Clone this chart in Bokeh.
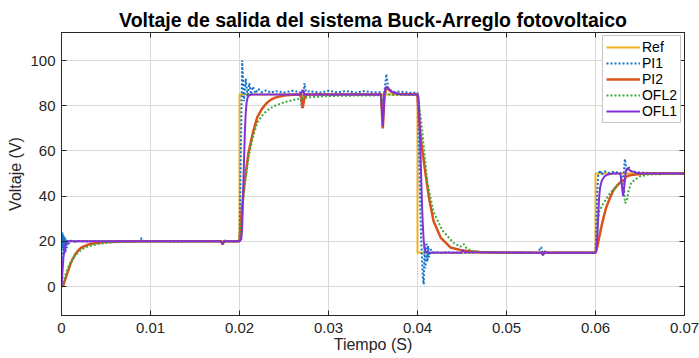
from bokeh.plotting import figure
from bokeh.models import FixedTicker, Range1d, LinearAxis
from bokeh.embed import file_html
from bokeh.resources import INLINE

# ---------------- data ----------------
x_ticks = [0.0, 0.01, 0.02, 0.03, 0.04, 0.05, 0.06, 0.07]
x_tick_labels = ["0", "0.01", "0.02", "0.03", "0.04", "0.05", "0.06", "0.07"]
y_ticks = [0, 20, 40, 60, 80, 100]
y_tick_labels = ["0", "20", "40", "60", "80", "100"]

series_names = ["Ref", "PI1", "PI2", "OFL2", "OFL1"]

ref_t = [0.0, 0.02, 0.02, 0.04, 0.04, 0.06, 0.06, 0.07]
ref_v = [20, 20, 85, 85, 15, 15, 50, 50]

pi1_t = [0, 0.00005, 0.0001, 0.00015, 0.0002, 0.00028, 0.00036, 0.00044, 0.00052, 0.0006,
         0.0007, 0.0008, 0.001, 0.0015, 0.002, 0.003, 0.004, 0.005, 0.006, 0.007,
         0.0088, 0.009, 0.0092, 0.0095, 0.011, 0.013, 0.015, 0.0175, 0.0179, 0.0181,
         0.0183, 0.019, 0.02,
         0.0201, 0.0203, 0.0205, 0.0207, 0.0209, 0.0211, 0.0213, 0.0215, 0.0218, 0.0221,
         0.0225, 0.023, 0.0235, 0.024, 0.025, 0.026, 0.0268, 0.027, 0.0272, 0.0273,
         0.0275, 0.0278, 0.029, 0.030, 0.031, 0.032, 0.033, 0.034, 0.035, 0.0359,
         0.0361, 0.0363, 0.0365, 0.0367, 0.037, 0.0375, 0.038, 0.039, 0.04,
         0.0402, 0.0404, 0.0406, 0.0407, 0.0408, 0.0409, 0.041, 0.0411, 0.0412, 0.0413,
         0.0415, 0.0418, 0.042, 0.0425, 0.043, 0.045, 0.047, 0.049, 0.051, 0.0535,
         0.0539, 0.0541, 0.0543, 0.0546, 0.057, 0.06,
         0.0601, 0.0602, 0.0603, 0.0605, 0.0607, 0.061, 0.0615, 0.062, 0.0628, 0.0631,
         0.0633, 0.0635, 0.0637, 0.064, 0.065, 0.066, 0.07]
pi1_v = [0, 12, 24, 17, 23, 14, 22, 15, 21, 17,
         20.5, 18.8, 20.3, 19.8, 20.2, 19.9, 20.1, 19.9, 20.1, 20,
         20, 21.5, 19.7, 20, 20.1, 19.9, 20.1, 20, 20.4, 18.6,
         20.3, 20, 20,
         45, 100, 82, 92, 84, 90, 85, 88.5, 85.5, 87.5,
         86, 86.8, 85.8, 86.5, 85.9, 86.6, 86, 79, 84, 90,
         85, 86.5, 85.8, 86.6, 85.9, 86.5, 85.8, 86.4, 85.9, 86,
         73, 87, 94, 88, 86.8, 86, 86.3, 85.8, 85.8,
         55, 22, 4, 1, 18, 8, 19.5, 11, 18, 13,
         16.5, 14.3, 15.6, 14.8, 15.2, 15, 15.2, 14.9, 15.1, 15,
         17.5, 13.8, 15.6, 15, 15.1, 15,
         28, 42, 49, 51.5, 49.5, 51, 50.3, 50.7, 50.3, 46,
         56.5, 51, 53, 51, 50.5, 50.2, 50]

pi2_t = [0, 0.0002, 0.0004, 0.00064, 0.001, 0.0013, 0.0016, 0.002, 0.0023, 0.003,
         0.0038, 0.005, 0.007, 0.009, 0.0179, 0.0181, 0.0183, 0.0186, 0.02,
         0.0202, 0.0205, 0.021, 0.0215, 0.022, 0.0225, 0.023, 0.0235, 0.024, 0.025,
         0.026, 0.0269, 0.0271, 0.0273, 0.0276, 0.0359, 0.0361, 0.0363, 0.0365, 0.0368,
         0.0372, 0.038, 0.04,
         0.0402, 0.0405, 0.0409, 0.0413, 0.0418, 0.0426, 0.0437, 0.045, 0.047, 0.05,
         0.0539, 0.0541, 0.0543, 0.0546, 0.06,
         0.0602, 0.0604, 0.0606, 0.0609, 0.0612, 0.0616, 0.062, 0.0625, 0.063, 0.0632,
         0.0634, 0.0637, 0.064, 0.065, 0.066, 0.07]
pi2_v = [0, 0.5, 3, 5.7, 10, 12.5, 14.6, 16.5, 17.4, 18.6,
         19.2, 19.7, 19.9, 20, 20, 18.8, 20.2, 20, 20,
         31, 44, 59, 68, 75, 78.5, 81, 82.6, 83.6, 84.5,
         84.9, 85, 79, 83.5, 85, 85, 70, 85, 88, 87,
         85.8, 85.2, 85,
         73, 61.6, 50, 39, 29, 21.7, 17.3, 16, 15.3, 15,
         15, 14.2, 15.3, 15, 15,
         17.5, 21.5, 25.5, 30.5, 35, 39, 42.5, 45, 47, 46.5,
         48.5, 49, 49.3, 49.8, 50, 50]

ofl2_t = [0, 0.0002, 0.0005, 0.0008, 0.0012, 0.0016, 0.002, 0.0025, 0.003, 0.004,
          0.005, 0.006, 0.008, 0.01, 0.0179, 0.0181, 0.0183, 0.02,
          0.0202, 0.0205, 0.021, 0.0215, 0.022, 0.0225, 0.023, 0.0235, 0.024, 0.025,
          0.026, 0.027, 0.028, 0.03, 0.033, 0.0359, 0.0361, 0.0363, 0.0366, 0.037, 0.04,
          0.0402, 0.0405, 0.0408, 0.0411, 0.0418, 0.0428, 0.044, 0.0448, 0.0452, 0.0455,
          0.046, 0.047, 0.05, 0.06,
          0.0601, 0.0602, 0.0603, 0.0604, 0.0607, 0.061, 0.0615, 0.062, 0.0625, 0.063,
          0.0632, 0.0633, 0.0635, 0.0637, 0.064, 0.065, 0.066, 0.07]
ofl2_v = [0, 2, 6, 9, 12, 14, 15.6, 16.9, 17.8, 18.8,
          19.3, 19.6, 19.9, 20, 20, 19.2, 20, 20,
          29, 42, 57, 66, 72.5, 75.5, 77.5, 79, 80, 81.5,
          82.5, 83.3, 83.8, 84.3, 84.5, 84.6, 81, 86, 85.2, 84.8, 84.7,
          80, 70, 58, 46, 33, 24.8, 19.5, 17.6, 18.8, 17,
          15.8, 15.3, 15, 15,
          18, 24, 29, 33, 35.5, 37.5, 40.5, 43, 45, 46.3,
          44, 37, 37.5, 42, 46, 48.8, 49.6, 50]

ofl1_t = [0, 0.0001, 0.0002, 0.0003, 0.0004, 0.0005, 0.0007, 0.001, 0.0179, 0.0181,
          0.0183, 0.02,
          0.0202, 0.0203, 0.0204, 0.0205, 0.0206, 0.0207, 0.0208, 0.0209, 0.021, 0.0212,
          0.0215, 0.0269, 0.0271, 0.0273, 0.0359, 0.0361, 0.0362, 0.0363, 0.0365, 0.0367,
          0.037, 0.0375, 0.038, 0.04,
          0.0401, 0.0402, 0.0403, 0.0404, 0.0405, 0.0406, 0.0407, 0.0408, 0.0409, 0.0411,
          0.0449, 0.0451, 0.0453, 0.0539, 0.0541, 0.0543, 0.0546, 0.06,
          0.0601, 0.0602, 0.0603, 0.0604, 0.0605, 0.0607, 0.061, 0.0614, 0.062, 0.0628,
          0.0631, 0.0632, 0.0634, 0.0636, 0.0639, 0.0645, 0.065, 0.07]
ofl1_v = [0, 6, 12, 16, 18.3, 19.3, 19.9, 20, 20, 19,
          20, 20,
          21, 26, 40, 55, 68, 77, 81.5, 83.5, 84.3, 84.8,
          85, 85, 87, 85, 85, 71, 78, 86, 88.5, 87.8,
          86.5, 85.6, 85.1, 85,
          84, 77, 64, 50, 37, 27, 20, 16.8, 15.6, 15.1,
          15, 16.2, 15.2, 15, 14, 15.3, 15, 15,
          16, 22, 31, 39, 43.5, 46.8, 48.7, 49.6, 50, 50,
          40, 43, 51, 52.5, 51.3, 50.4, 50.1, 50]

# ---------------- figure ----------------
FONT = "Liberation Sans"
AX = "#262626"
W, H = 699, 358
ML, MR, MT, MB = 61, 15, 32, 43

p = figure(width=W, height=H, output_backend="svg", toolbar_location=None,
           x_range=Range1d(0, 0.07), y_range=Range1d(-12.8, 112.4),
           min_border_left=ML, min_border_right=MR, min_border_top=MT,
           min_border_bottom=MB, background_fill_color="white",
           border_fill_color="white")

p.title.text = "Voltaje de salida del sistema Buck-Arreglo fotovoltaico"
p.title.align = "center"
p.title.text_font = FONT
p.title.text_font_size = "19.5px"
p.title.text_font_style = "bold"
p.title.text_color = "#000000"
p.title.standoff = 4
p.title.offset = 0

p.outline_line_color = AX
p.outline_line_width = 1

xt = FixedTicker(ticks=x_ticks)
yt = FixedTicker(ticks=y_ticks)


def style_axis(ax):
    ax.axis_line_color = AX
    ax.axis_line_width = 1
    ax.major_tick_line_color = AX
    ax.major_tick_in = 5
    ax.major_tick_out = 0
    ax.minor_tick_line_color = None
    ax.major_label_text_font = FONT
    ax.major_label_text_color = AX
    ax.major_label_text_font_size = "15px"


xa = p.xaxis[0]
style_axis(xa)
xa.ticker = xt
xa.major_label_overrides = {t: l for t, l in zip(x_ticks, x_tick_labels)}
xa.major_label_standoff = 7
xa.axis_label = "Tiempo (S)"
xa.axis_label_text_font = FONT
xa.axis_label_text_font_size = "16px"
xa.axis_label_text_font_style = "normal"
xa.axis_label_text_color = AX
xa.axis_label_standoff = 0

ya = p.yaxis[0]
style_axis(ya)
ya.ticker = yt
ya.major_label_overrides = {t: l for t, l in zip(y_ticks, y_tick_labels)}
ya.major_label_standoff = 6
ya.axis_label = "Voltaje (V)"
ya.axis_label_text_font = FONT
ya.axis_label_text_font_size = "16px"
ya.axis_label_text_font_style = "normal"
ya.axis_label_text_color = AX
ya.axis_label_standoff = 3

# box ticks on top and right (MATLAB style), without labels
for side, tk in (("above", xt), ("right", yt)):
    ax = LinearAxis(ticker=tk)
    style_axis(ax)
    ax.major_label_text_font_size = "1px"
    ax.major_label_text_color = None
    ax.major_label_standoff = 0
    p.add_layout(ax, side)

p.xgrid.ticker = xt
p.ygrid.ticker = yt
p.grid.grid_line_color = "#d9d9d9"
p.grid.grid_line_width = 1

# ---------------- lines ----------------
p.line(ref_t, ref_v, color="#EDB120", line_width=2, legend_label=series_names[0])
p.line(pi1_t, pi1_v, color="#1473C8", line_width=2, line_dash="2 2",
       legend_label=series_names[1])
p.line(pi2_t, pi2_v, color="#D95319", line_width=2.5, legend_label=series_names[2])
p.line(ofl2_t, ofl2_v, color="#3CAA3C", line_width=2, line_dash="2 2",
       legend_label=series_names[3])
p.line(ofl1_t, ofl1_v, color="#8430D8", line_width=2, legend_label=series_names[4])

lg = p.legend[0]
lg.location = "top_right"
lg.margin = 3
lg.padding = 3
lg.spacing = 0
lg.label_height = 16
lg.glyph_height = 16
lg.glyph_width = 34
lg.label_standoff = 2
lg.label_text_font = FONT
lg.label_text_font_size = "14px"
lg.label_text_color = "#000000"
lg.border_line_color = "#8c8c8c"
lg.border_line_width = 1
lg.background_fill_color = "white"
lg.background_fill_alpha = 1

open("out.html", "w").write(file_html(p, INLINE))
